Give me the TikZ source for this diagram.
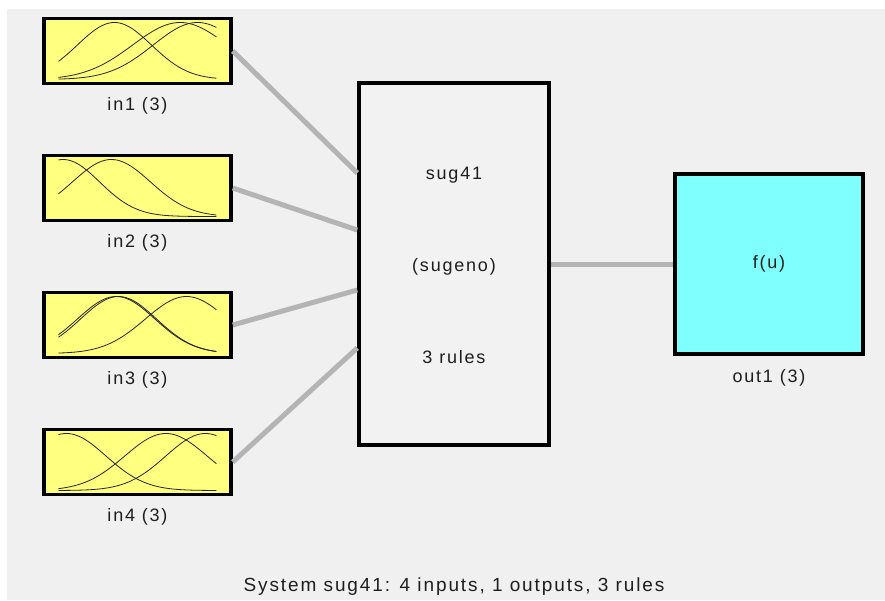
\documentclass[tikz,border=0pt]{standalone}
\usepackage{fontspec}
\newfontfamily\guifont[LetterSpace=10]{Liberation Sans}
\usepackage{tikz}
\usetikzlibrary{positioning}

\definecolor{panelgray}{HTML}{F0F0F0}
\definecolor{sysgray}{HTML}{F2F2F2}
\definecolor{inyellow}{HTML}{FFFF80}
\definecolor{outcyan}{HTML}{80FFFF}
\definecolor{wiregray}{HTML}{B4B4B4}
\definecolor{txtcol}{HTML}{1E1E1E}

\tikzset{
  inbox/.style={draw=black, line width=3.5pt, fill=inyellow, minimum width=187pt, minimum height=65pt},
  sysbox/.style={draw=black, line width=3.5pt, fill=sysgray, minimum width=190pt, minimum height=362pt},
  outbox/.style={draw=black, line width=3.5pt, fill=outcyan, minimum width=188pt, minimum height=180pt},
  lbl/.style={inner sep=0pt},
  wire/.style={draw=wiregray, line width=5pt},
  mfline/.style={draw=black!85, line width=0.8pt}
}

% one gaussian membership curve inside an input box
\newcommand{\mfcurve}[3]{%
  \draw[mfline, shift={(#1.center)}] plot[domain=0:1, samples=60, smooth]
    ({-79+158*\x}, {28.5-57*exp(0-((\x-#2)*(\x-#2))/(2*#3*#3))});}

\begin{document}
\begin{tikzpicture}[x=1pt, y=-1pt, font=\guifont\fontsize{18}{21}\selectfont, text=txtcol]
\useasboundingbox (0,0) rectangle (885,600);
\fill[panelgray] (7,9) rectangle (885,600);

% inputs
\foreach \i in {1,...,4} {
  \node[inbox] (in\i) at (137.5,{51+137*(\i-1)}) {};
  \node[lbl, below=12pt of in\i] (lbl\i) {in\i{} (3)};
}
\foreach \cen/\sig in {0.354/0.234, 0.77/0.30, 0.88/0.28} {\mfcurve{in1}{\cen}{\sig}}
\foreach \cen/\sig in {0.03/0.23, 0.335/0.247} {\mfcurve{in2}{\cen}{\sig}}
\foreach \cen/\sig in {0.365/0.245, 0.38/0.24, 0.81/0.26} {\mfcurve{in3}{\cen}{\sig}}
\foreach \cen/\sig in {0.05/0.25, 0.68/0.26, 0.93/0.25} {\mfcurve{in4}{\cen}{\sig}}

% rule block
\node[sysbox] (sys) at (454,264) {};
\node (sysname) at ([yshift=89pt]sys.center) {sug41};
\node (systype) at ([yshift=-3pt]sys.center) {(sugeno)};
\node (sysrules) at ([yshift=-93pt]sys.center) {3 rules};

% output
\node[outbox] (out1) at (769,264) {f(u)};
\node[lbl, below=13pt of out1] (lbl5) {out1 (3)};

% wires
\foreach \i/\dy in {1/91, 2/34, 3/-26, 4/-84} {
  \coordinate (sysin\i) at ([yshift=\dy pt]sys.west);
  \draw[wire] (in\i.east) -- (sysin\i);
}
\draw[wire] (sys.east) -- (out1.west);

\node[font=\guifont\fontsize{19}{22}\selectfont] (caption) at (454,587) {System sug41: 4 inputs, 1 outputs, 3 rules};
\end{tikzpicture}
\end{document}
